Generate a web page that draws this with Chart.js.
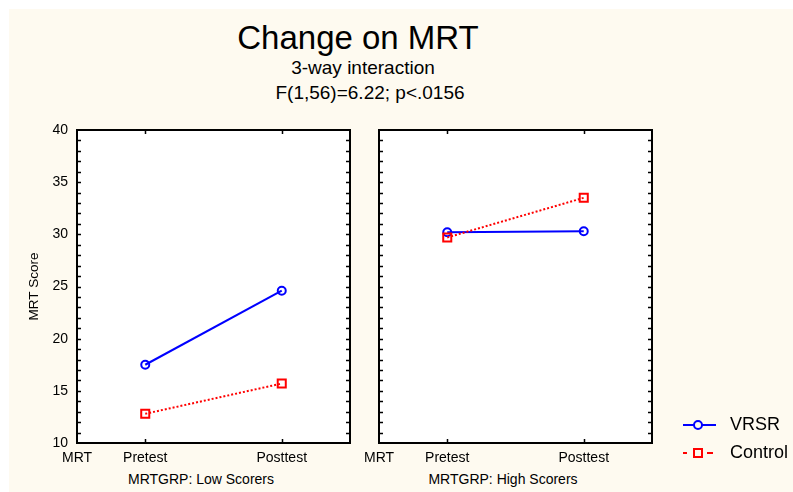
<!DOCTYPE html>
<html>
<head>
<meta charset="utf-8">
<script src="https://cdn.jsdelivr.net/npm/chart.js@4.4.1/dist/chart.umd.min.js"></script>
<style>
  html, body { margin: 0; padding: 0; background: #fff; }
  #page { position: relative; width: 793px; height: 492px; overflow: hidden;
          font-family: 'Liberation Sans', Arial, sans-serif; color: #000; }
  #bg { position: absolute; left: 9px; top: 9px; right: 0; bottom: 0; background: #fefaf0; }
  canvas { position: absolute; left: 0; top: 0; }
  .t { position: absolute; white-space: nowrap; transform: translateX(-50%); line-height: 1; }
</style>
</head>
<body>
<div id="page">
  <div id="bg"></div>
  <div class="t" style="left:358px;top:21px;font-size:33px">Change on MRT</div>
  <div class="t" style="left:363px;top:58px;font-size:19px">3-way interaction</div>
  <div class="t" style="left:370px;top:83px;font-size:19px">F(1,56)=6.22; p&lt;.0156</div>
  <div class="t" style="left:201px;top:472px;font-size:14px">MRTGRP: Low Scorers</div>
  <div class="t" style="left:503px;top:472px;font-size:14px">MRTGRP: High Scorers</div>
  <canvas id="low" width="793" height="492"></canvas>
  <canvas id="high" width="793" height="492"></canvas>
</div>
<script>
// data
const xTickLabels = ['MRT', 'Pretest', '', 'Posttest', ''];
const phases = ['Pretest', 'Posttest'];
const seriesNames = ['VRSR', 'Control'];
const vrsrLow = [17.5, 24.6];
const controlLow = [12.8, 15.7];
const vrsrHigh = [30.2, 30.3];
const controlHigh = [29.7, 33.5];
const yMin = 10, yMax = 40, yStep = 5;

const BLUE = '#0000ff', RED = '#ff0000';
Chart.defaults.font.family = "'Liberation Sans', Arial, sans-serif";
Chart.defaults.color = '#000';

// white plot area, black frame and the small inward ticks on all four sides
const framePlugin = {
  id: 'frame',
  beforeDraw(chart) {
    const { ctx, chartArea: a } = chart;
    ctx.save();
    ctx.fillStyle = '#fff';
    ctx.fillRect(a.left, a.top, a.right - a.left, a.bottom - a.top);
    ctx.restore();
  },
  beforeDatasetsDraw(chart) {
    const { ctx, chartArea: a, scales } = chart;
    ctx.save();
    ctx.strokeStyle = '#000';
    ctx.lineWidth = 2;
    ctx.strokeRect(a.left, a.top, a.right - a.left, a.bottom - a.top);
    ctx.lineWidth = 1.5;
    ctx.beginPath();
    for (let v = yMin + 1; v < yMax; v++) {
      const y = Math.round(scales.y.getPixelForValue(v)) + 0.5;
      ctx.moveTo(a.left, y); ctx.lineTo(a.left + 4, y);
      ctx.moveTo(a.right, y); ctx.lineTo(a.right - 4, y);
    }
    phases.forEach((p) => {
      const x = Math.round(scales.x.getPixelForValue(xTickLabels.indexOf(p))) + 0.5;
      ctx.moveTo(x, a.top); ctx.lineTo(x, a.top + 4);
      ctx.moveTo(x, a.bottom); ctx.lineTo(x, a.bottom - 4);
    });
    ctx.stroke();
    ctx.restore();
  }
};

// legend at the lower right, drawn from the dataset styles
const legendPlugin = {
  id: 'sideLegend',
  afterDraw(chart) {
    const { ctx } = chart;
    const rows = [425, 453];
    ctx.save();
    chart.data.datasets.forEach((ds, i) => {
      const y = rows[i];
      ctx.strokeStyle = ds.borderColor;
      ctx.lineWidth = 2;
      ctx.beginPath();
      if (ds.pointStyle === 'rect') {
        ctx.moveTo(683, y); ctx.lineTo(687, y);
        ctx.moveTo(707, y); ctx.lineTo(713, y);
        ctx.stroke();
        ctx.strokeRect(694, y - 4, 8, 8);
      } else {
        ctx.moveTo(683, y); ctx.lineTo(716, y);
        ctx.stroke();
        ctx.fillStyle = '#fefaf0';
        ctx.beginPath();
        ctx.arc(698, y, 4, 0, Math.PI * 2);
        ctx.fill(); ctx.stroke();
      }
      ctx.fillStyle = '#000';
      ctx.font = "18px 'Liberation Sans', Arial, sans-serif";
      ctx.textBaseline = 'middle';
      ctx.fillText(ds.label, 730, y);
    });
    ctx.restore();
  }
};

function makePanel(id, vrsr, control, padLeft, padRight, showY, extra) {
  return new Chart(document.getElementById(id), {
    type: 'line',
    data: {
      datasets: [
        { label: seriesNames[0], data: phases.map((p, i) => ({ x: p, y: vrsr[i] })),
          borderColor: BLUE, borderWidth: 2, pointStyle: 'circle', pointRadius: 4,
          pointBorderWidth: 2, pointBorderColor: BLUE, pointBackgroundColor: 'rgba(255,255,255,0)', order: 1 },
        { label: seriesNames[1], data: phases.map((p, i) => ({ x: p, y: control[i] })),
          borderColor: RED, borderWidth: 2, borderDash: [2, 2], pointStyle: 'rect', pointRadius: 5.7,
          pointBorderWidth: 2, pointBorderColor: RED, pointBackgroundColor: 'rgba(255,255,255,0)', order: 0 }
      ]
    },
    options: {
      responsive: false, animation: false, events: [],
      layout: { autoPadding: false, padding: { left: padLeft, right: padRight, top: 130, bottom: 9 } },
      plugins: { legend: { display: false }, tooltip: { enabled: false } },
      scales: {
        x: {
          type: 'category', labels: xTickLabels, offset: false,
          grid: { display: false, drawTicks: false }, border: { display: false },
          ticks: { autoSkip: false, maxRotation: 0, padding: 7, font: { size: 14 } },
          afterFit(s) { s.height = 40; }
        },
        y: {
          min: yMin, max: yMax,
          grid: { display: false, drawTicks: false }, border: { display: false },
          ticks: { display: showY, stepSize: yStep, padding: 9, font: { size: 14 } },
          title: { display: showY, text: 'MRT Score', font: { size: 13.5 }, padding: { top: 18, bottom: 0 } },
          afterFit(s) { s.width = showY ? 69 : 0; }
        }
      }
    },
    plugins: [framePlugin].concat(extra)
  });
}

makePanel('low', vrsrLow, controlLow, 8, 793 - 350, true, []);
makePanel('high', vrsrHigh, controlHigh, 379, 793 - 652, false, [legendPlugin]);
</script>
</body>
</html>
